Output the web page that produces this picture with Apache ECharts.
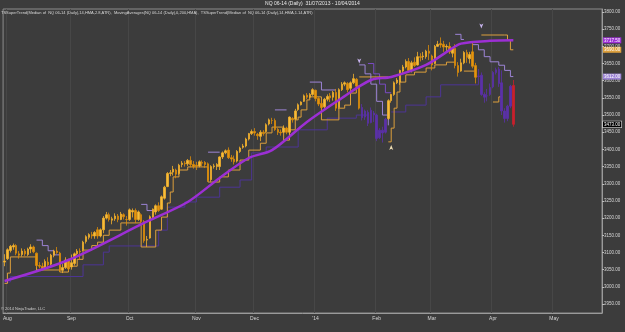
<!DOCTYPE html>
<html>
<head>
<meta charset="utf-8">
<title>NQ 06-14 (Daily)</title>
<style>
  html, body { margin: 0; padding: 0; background: #3c3c3c; }
  #chart { width: 625px; height: 332px; }
</style>
<script src="https://cdn.jsdelivr.net/npm/echarts@6/dist/echarts.min.js"></script>
</head>
<body>
<div id="chart"></div>
<script>
// trading days, Jul 31 2013 onward (weekdays minus exchange holidays)
const holidays = ['2013-09-02', '2013-11-28', '2013-12-25', '2014-01-01', '2014-01-20', '2014-02-17', '2014-04-18', '2014-05-26'];
const slotCount = 206;
const monthLabels = { '01': "'14", '02': 'Feb', '03': 'Mar', '04': 'Apr', '05': 'May', '06': 'Jun',
  '07': 'Jul', '08': 'Aug', '09': 'Sep', '10': 'Oct', '11': 'Nov', '12': 'Dec' };

const dates = [];
for (let d = new Date(Date.UTC(2013, 6, 31)); dates.length < slotCount; d.setUTCDate(d.getUTCDate() + 1)) {
  const s = d.toISOString().slice(0, 10);
  const wd = d.getUTCDay();
  if (wd === 0 || wd === 6 || holidays.includes(s)) continue;
  dates.push(s);
}

// daily bars: [open, close, low, high]
const ohlc = [
  [3072, 3075, 3060, 3095],
  // Aug
  [3082, 3108, 3078, 3112], [3106, 3118, 3100, 3122], [3116, 3120, 3108, 3126], [3120, 3098, 3092, 3124],
  [3096, 3092, 3082, 3104], [3094, 3104, 3088, 3112], [3104, 3096, 3090, 3110], [3094, 3110, 3090, 3114],
  [3110, 3116, 3098, 3124], [3116, 3102, 3098, 3120], [3098, 3062, 3056, 3100], [3062, 3060, 3054, 3072],
  [3060, 3052, 3048, 3070], [3054, 3074, 3050, 3080], [3072, 3064, 3056, 3086], [3066, 3092, 3062, 3096],
  [3092, 3104, 3086, 3108], [3104, 3100, 3096, 3116], [3098, 3048, 3044, 3102], [3048, 3056, 3040, 3066],
  [3056, 3078, 3052, 3086], [3078, 3052, 3046, 3082],
  // Sep
  [3058, 3070, 3050, 3094], [3068, 3096, 3062, 3100], [3096, 3104, 3092, 3110], [3104, 3102, 3080, 3112],
  [3108, 3130, 3104, 3134], [3132, 3146, 3126, 3150], [3144, 3152, 3138, 3156], [3152, 3148, 3140, 3160],
  [3148, 3158, 3140, 3162], [3166, 3148, 3140, 3174], [3148, 3166, 3144, 3170], [3166, 3200, 3156, 3206],
  [3200, 3210, 3196, 3218], [3210, 3196, 3190, 3216], [3194, 3198, 3182, 3204], [3198, 3206, 3192, 3214],
  [3206, 3196, 3188, 3212], [3196, 3212, 3194, 3218], [3210, 3204, 3196, 3214], [3196, 3196, 3178, 3206],
  // Oct
  [3196, 3224, 3192, 3228], [3218, 3222, 3202, 3228], [3222, 3196, 3186, 3228], [3196, 3218, 3192, 3222],
  [3210, 3190, 3186, 3214], [3190, 3134, 3128, 3194], [3136, 3138, 3116, 3148], [3142, 3204, 3140, 3208],
  [3202, 3226, 3198, 3228], [3218, 3236, 3210, 3240], [3236, 3222, 3218, 3246], [3226, 3262, 3224, 3266],
  [3258, 3290, 3254, 3294], [3292, 3330, 3290, 3334], [3330, 3332, 3322, 3340], [3334, 3342, 3324, 3352],
  [3340, 3328, 3316, 3344], [3330, 3354, 3326, 3358], [3356, 3360, 3348, 3366], [3360, 3358, 3350, 3366],
  [3358, 3368, 3352, 3372], [3368, 3356, 3348, 3380], [3356, 3350, 3344, 3366],
  // Nov
  [3354, 3352, 3340, 3364], [3352, 3364, 3348, 3368], [3362, 3360, 3350, 3368], [3362, 3356, 3346, 3366],
  [3358, 3310, 3306, 3362], [3312, 3350, 3306, 3354], [3350, 3352, 3344, 3358], [3350, 3356, 3340, 3360],
  [3350, 3378, 3340, 3380], [3378, 3390, 3372, 3394], [3390, 3396, 3386, 3400], [3398, 3376, 3372, 3406],
  [3376, 3372, 3364, 3384], [3372, 3364, 3356, 3382], [3366, 3394, 3362, 3398], [3394, 3404, 3390, 3408],
  [3406, 3410, 3402, 3416], [3410, 3430, 3406, 3434], [3430, 3446, 3426, 3448], [3446, 3452, 3442, 3458],
  // Dec
  [3452, 3448, 3440, 3462], [3444, 3440, 3428, 3448], [3438, 3450, 3424, 3456], [3450, 3446, 3440, 3456],
  [3452, 3472, 3448, 3476], [3474, 3486, 3470, 3490], [3484, 3484, 3474, 3492], [3484, 3458, 3454, 3490],
  [3458, 3450, 3442, 3462], [3450, 3448, 3440, 3458], [3450, 3462, 3448, 3470], [3462, 3450, 3444, 3466],
  [3450, 3494, 3428, 3496], [3490, 3486, 3478, 3494], [3488, 3512, 3486, 3518], [3516, 3530, 3512, 3534],
  [3530, 3538, 3528, 3540], [3540, 3556, 3538, 3560], [3558, 3552, 3546, 3564], [3552, 3560, 3548, 3564],
  [3560, 3574, 3556, 3578],
  // Jan
  [3572, 3548, 3540, 3574], [3548, 3532, 3526, 3552], [3534, 3522, 3514, 3542], [3524, 3546, 3520, 3550],
  [3546, 3554, 3540, 3560], [3556, 3550, 3538, 3564], [3552, 3566, 3542, 3570], [3566, 3520, 3512, 3576],
  [3522, 3574, 3518, 3578], [3574, 3590, 3570, 3596], [3590, 3594, 3584, 3598], [3592, 3574, 3566, 3596],
  [3578, 3594, 3568, 3598], [3594, 3606, 3590, 3620], [3604, 3584, 3572, 3608], [3582, 3520, 3516, 3586],
  [3522, 3492, 3484, 3532], [3494, 3512, 3486, 3516], [3508, 3476, 3468, 3514], [3478, 3514, 3476, 3522],
  [3506, 3500, 3480, 3512],
  // Feb
  [3500, 3432, 3424, 3504], [3434, 3456, 3430, 3462], [3456, 3448, 3420, 3466], [3450, 3488, 3446, 3492],
  [3490, 3542, 3486, 3546], [3542, 3560, 3536, 3562], [3560, 3594, 3556, 3598], [3594, 3602, 3590, 3608],
  [3596, 3630, 3588, 3632], [3628, 3640, 3620, 3646], [3640, 3656, 3636, 3662], [3656, 3630, 3624, 3666],
  [3630, 3652, 3624, 3658], [3654, 3644, 3640, 3668], [3646, 3670, 3644, 3684], [3670, 3668, 3656, 3680],
  [3670, 3672, 3660, 3684], [3670, 3686, 3664, 3690], [3686, 3680, 3660, 3704],
  // Mar
  [3672, 3646, 3630, 3676], [3650, 3700, 3648, 3704], [3700, 3706, 3698, 3716], [3708, 3704, 3696, 3726],
  [3706, 3698, 3684, 3716], [3698, 3700, 3686, 3706], [3700, 3684, 3678, 3712], [3680, 3694, 3668, 3698],
  [3694, 3644, 3636, 3706], [3644, 3624, 3612, 3654], [3628, 3652, 3626, 3664], [3652, 3682, 3648, 3686],
  [3682, 3668, 3652, 3690], [3664, 3676, 3650, 3684], [3684, 3642, 3636, 3712], [3644, 3610, 3592, 3652],
  [3612, 3614, 3592, 3634], [3616, 3560, 3556, 3624], [3560, 3552, 3536, 3566], [3556, 3556, 3540, 3576],
  [3560, 3580, 3556, 3592],
  // Apr
  [3582, 3624, 3578, 3628], [3624, 3632, 3618, 3638], [3634, 3592, 3582, 3640], [3594, 3512, 3500, 3630],
  [3512, 3490, 3478, 3520], [3490, 3526, 3482, 3530], [3526, 3584, 3520, 3588], [3586, 3473, 3466, 3602]
];

// bar index ranges drawn in the downtrend colour
const downRuns = [[123, 131], [163, 174]];

// MovingAverages(0,200,HMA): [bar index, value]
const maLine = [[0, 3017], [22, 3078], [48, 3186], [63, 3247], [74, 3317], [84, 3375], [92, 3398],
  [104, 3480], [115, 3544], [126, 3602], [133, 3611], [145, 3646], [153, 3689], [157, 3708],
  [167, 3716], [175, 3717.5]];

// TSSuperTrend 1.14 ATR, up legs (orange)
const tightUp = [
  [[0, 3010], [1, 3040], [2, 3087], [11, 3049], [19, 3043], [22, 3060], [25, 3080], [27, 3107], [30, 3120],
   [32, 3130], [34, 3150], [36, 3165], [40, 3186], [47, 3116], [52, 3165], [54, 3203], [56, 3244], [57, 3276],
   [58, 3320], [60, 3340], [63, 3349], [70, 3305], [74, 3320], [77, 3340], [81, 3369], [84, 3398], [88, 3418],
   [90, 3448], [92, 3465], [96, 3427], [98, 3457], [100, 3486], [101, 3494], [102, 3515], [104, 3544],
   [105, 3553], [109, 3486], [115, 3520], [117, 3529], [119, 3564], [121, 3582], [122, 3582]],
  [[122, 3611], [132, 3611]],
  [[132, 3422], [133, 3462], [134, 3520], [135, 3567], [136, 3596], [138, 3617], [141, 3625], [145, 3637],
   [148, 3646], [152, 3654], [155, 3654]],
  [[158, 3628], [162, 3628]],
  [[168, 3538], [170, 3553], [171, 3553]],
  [[164, 3733], [172, 3733], [173, 3718], [174, 3690], [175, 3690]]
];

// TSSuperTrend 1.14 ATR, down legs (lavender)
const tightDown = [
  [[11, 3136], [13, 3120], [15, 3105], [17, 3093], [19, 3093]],
  [[47, 3240], [49, 3222], [51, 3222]],
  [[70, 3392], [74, 3392]],
  [[93, 3515], [97, 3515]],
  [[105, 3596], [109, 3573], [114, 3573]],
  [[122, 3646], [124, 3620], [126, 3590], [128, 3540], [130, 3500], [132, 3470]],
  [[155, 3735], [157, 3720], [158, 3720]],
  [[161, 3705], [163, 3690], [165, 3670], [167, 3655], [170, 3645], [172, 3630], [174, 3612], [175, 3612]]
];

// TSSuperTrend 2.8 ATR, up legs (indigo) and down legs (violet)
const wideUp = [
  [[0, 3014], [2, 3030], [27, 3064], [34, 3101], [36, 3119], [53, 3165], [56, 3232], [62, 3247], [66, 3261],
   [74, 3290], [81, 3311], [85, 3390], [90, 3407], [101, 3457], [111, 3491], [121, 3500], [125, 3500]],
  [[133, 3509], [138, 3529], [145, 3553], [150, 3588], [163, 3593]]
];
const wideDown = [
  [[125, 3650], [127, 3620], [129, 3590], [131, 3565], [133, 3565]]
];

// trend-change arrows: [bar index, price, direction]
const arrows = [[122, 3650, 'down'], [133, 3413, 'up'], [164, 3752, 'down']];

const legendText = 'TSSuperTrend(Median of  NQ 06-14 (Daily),14,HMA,2.8,ATR),  MovingAverages(NQ 06-14 (Daily),0,200,HMA),  TSSuperTrend(Median of  NQ 06-14 (Daily),14,HMA,1.14,ATR)';

const FONT = 'Liberation Sans';
const lastOf = (seg) => seg[seg.length - 1][1];

function priceTag(value, bg, fg, border) {
  return {
    symbol: 'none', silent: true, animation: false,
    lineStyle: { width: 0, color: 'rgba(0,0,0,0)', opacity: 1 },
    label: {
      show: true, position: 'end', distance: 1, formatter: value.toFixed(2), opacity: 1,
      fontSize: 4.5, fontFamily: FONT, color: fg, backgroundColor: bg,
      borderColor: border || bg, borderWidth: border ? 0.6 : 0, padding: [1, 1, 0, 1]
    },
    data: [{ yAxis: value }]
  };
}

function stepSeries(segments, color, width, tagOn) {
  return segments.map((seg, k) => ({
    type: 'line', data: seg, step: 'end', symbol: 'none', silent: true, animation: false,
    lineStyle: { color, width }, z: 3, clip: tagOn === k ? false : true,
    markLine: tagOn === k ? priceTag(lastOf(seg), color, '#fff') : undefined
  }));
}

const candleData = ohlc.map((b, i) => {
  let c = null;
  if (i === ohlc.length - 1) c = '#c8202c';
  else if (downRuns.some(([a, z]) => i >= a && i <= z)) c = '#5b30a8';
  return c ? { value: b, itemStyle: { color: c, color0: c, borderColor: c, borderColor0: c } } : b;
});

const isMonthStart = (i) => i > 0 && dates[i].slice(5, 7) !== dates[i - 1].slice(5, 7);

const chart = echarts.init(document.getElementById('chart'), null, { renderer: 'canvas' });
chart.setOption({
  backgroundColor: '#3c3c3c',
  animation: false,
  title: [
    { text: 'NQ 06-14 (Daily)  31/07/2013 - 10/04/2014', left: 'center', top: 0, padding: 1,
      textStyle: { color: '#e8e8e8', fontSize: 5, fontWeight: 'normal', fontFamily: FONT } },
    { text: legendText, left: 1, top: 11, padding: 0,
      textStyle: { color: '#d8d8d8', fontSize: 4, fontWeight: 'normal', fontFamily: FONT } },
    { text: '© 2014 NinjaTrader, LLC', left: 1, top: 307, padding: 0,
      textStyle: { color: '#cfcfcf', fontSize: 4, fontWeight: 'normal', fontFamily: FONT } }
  ],
  grid: { left: 1, right: 23, top: 9, bottom: 19, show: true, borderColor: '#8c8c8c', borderWidth: 1 },
  xAxis: {
    type: 'category', data: dates, boundaryGap: true,
    axisLine: { lineStyle: { color: '#9a9a9a' } },
    axisTick: { interval: isMonthStart, length: 2, lineStyle: { color: '#bdbdbd' } },
    axisLabel: { interval: isMonthStart, formatter: (v) => monthLabels[v.slice(5, 7)],
      color: '#d6d6d6', fontSize: 5, fontFamily: FONT, margin: 3 },
    splitLine: { show: true, interval: isMonthStart, lineStyle: { color: '#474747', width: 1 } }
  },
  yAxis: {
    type: 'value', position: 'right', scale: true,
    min: 2923.8, max: 3808.73, splitNumber: 18,
    axisLine: { show: true, lineStyle: { color: '#9a9a9a' } },
    axisTick: { show: true, length: 2, lineStyle: { color: '#bdbdbd' } },
    axisLabel: { showMinLabel: false, showMaxLabel: false, margin: 2,
      formatter: (v) => (Math.abs(v % 50) < 1e-6 ? v.toFixed(2) : ''),
      color: '#d6d6d6', fontSize: 4.5, fontFamily: FONT },
    splitLine: { show: false }
  },
  series: [
    ...stepSeries(wideUp, '#4d3595', 1),
    ...stepSeries(wideDown, '#7a4cc4', 1),
    {
      type: 'candlestick', data: candleData, barWidth: 2, z: 4, silent: true, animation: false, clip: false,
      itemStyle: { color: '#f6bd3a', color0: '#e39410', borderColor: '#f2b02c', borderColor0: '#db8c0a', borderWidth: 0.8 },
      markPoint: {
        silent: true, animation: false,
        data: arrows.map(([i, p, dir]) => ({
          coord: [i, p], symbol: 'arrow', symbolSize: [3, 5], symbolRotate: dir === 'down' ? 180 : 0,
          symbolOffset: [0, 0], itemStyle: { color: dir === 'down' ? '#c8b4ee' : '#f3e2b8' }, label: { show: false }
        }))
      },
      markLine: priceTag(ohlc[ohlc.length - 1][1], '#000', '#fff', '#e0e0e0')
    },
    {
      type: 'line', data: maLine, smooth: 0.3, symbol: 'none', silent: true, animation: false, z: 5, clip: false,
      lineStyle: { color: '#9c2fd4', width: 2.5 },
      markLine: priceTag(lastOf(maLine), '#9c2fd4', '#fff')
    },
    ...stepSeries(tightUp, '#dc9f3c', 1, 5),
    ...stepSeries(tightDown, '#9d84d6', 1, 7)
  ]
});
</script>
</body>
</html>
